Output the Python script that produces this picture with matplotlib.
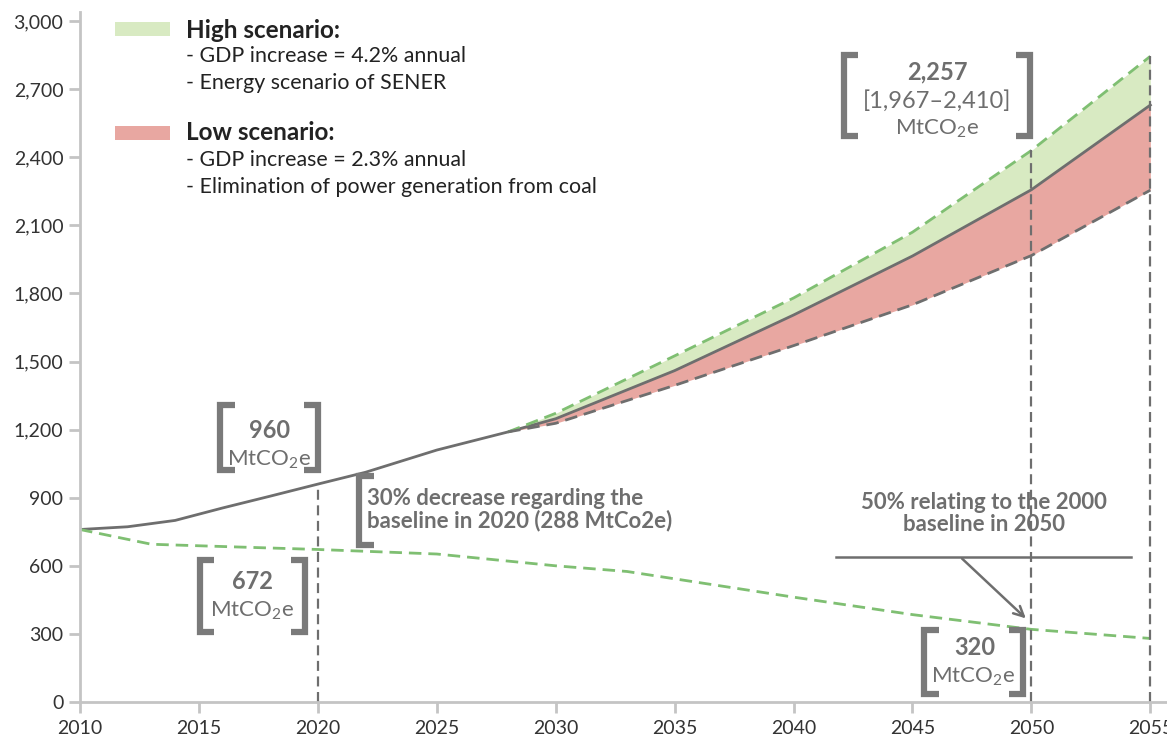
import numpy as np
import matplotlib
matplotlib.use('Agg')
import matplotlib.pyplot as plt

plt.rcParams['font.family'] = ['Lato', 'DejaVu Sans']
plt.rcParams['mathtext.fontset'] = 'custom'
plt.rcParams['mathtext.rm'] = 'Lato'
plt.rcParams['mathtext.it'] = 'Lato:italic'
plt.rcParams['mathtext.bf'] = 'Lato:bold'

# baseline emissions (MtCO2e)
base_years = [2010, 2012, 2014, 2016, 2018, 2020, 2022, 2025, 2028, 2030, 2035, 2040, 2045, 2050, 2055]
base_vals = [760, 772, 800, 855, 907, 960, 1012, 1110, 1190, 1248, 1460, 1705, 1965, 2257, 2630]

# scenarios from 2028 on
scen_years = [2028, 2030, 2035, 2040, 2045, 2050, 2055]
high_vals = [1190, 1272, 1525, 1780, 2070, 2430, 2845]
low_vals = [1190, 1228, 1395, 1570, 1750, 1967, 2255]

# reduction target path
target_years = [2010, 2013, 2016, 2020, 2025, 2030, 2033, 2040, 2045, 2050, 2055]
target_vals = [760, 695, 685, 672, 652, 600, 575, 462, 385, 320, 280]

xticks = [2010, 2015, 2020, 2025, 2030, 2035, 2040, 2045, 2050, 2055]
yticks = [0, 300, 600, 900, 1200, 1500, 1800, 2100, 2400, 2700, 3000]

GRAY = '#6e6e6e'
GREEN = '#7fbf72'
GFILL = '#d8eac2'
RFILL = '#e8a7a1'
AXC = '#c4c4c4'
DASH = (0, (4.5, 2.5))

fig = plt.figure(figsize=(11.67, 7.38), dpi=100)
ax = fig.add_axes([80 / 1167, 1 - 702 / 738, 1087 / 1167, (702 - 12) / 738])

base_scen = base_vals[base_years.index(scen_years[0]):]
ax.fill_between(scen_years, base_scen, high_vals, color=GFILL, lw=0)
ax.fill_between(scen_years, low_vals, base_scen, color=RFILL, lw=0)

ax.plot(base_years, base_vals, color=GRAY, lw=2)
ax.plot(scen_years, high_vals, color=GREEN, lw=2, ls=DASH)
ax.plot(scen_years, low_vals, color=GRAY, lw=2, ls=DASH)
ax.plot(target_years, target_vals, color=GREEN, lw=2, ls=DASH)

# vertical reference lines
ax.plot([2020, 2020], [0, base_vals[base_years.index(2020)]], color=GRAY, lw=1.6, ls=DASH)
ax.plot([2050, 2050], [0, high_vals[scen_years.index(2050)]], color=GRAY, lw=1.6, ls=DASH)
ax.plot([2055, 2055], [0, high_vals[scen_years.index(2055)]], color=GRAY, lw=1.6, ls=DASH)

ax.set_xlim(2010, 2055.7)
ax.set_ylim(0, 3040)
ax.set_xticks(xticks)
ax.set_yticks(yticks)
ax.set_yticklabels([f'{v:,}' for v in yticks])
for s in ['top', 'right']:
    ax.spines[s].set_visible(False)
for s in ['left', 'bottom']:
    ax.spines[s].set_color(AXC)
    ax.spines[s].set_linewidth(2)
ax.tick_params(colors=AXC, width=2, length=8, labelcolor='#333333', labelsize=14)
ax.tick_params(axis='x', pad=5)
ax.tick_params(axis='y', pad=4)


def bracket(x0, x1, y0, y1, w=0.6, left=True, right=True):
    kw = dict(color='#7a7a7a', lw=4.5, solid_capstyle='butt', solid_joinstyle='miter', clip_on=False)
    if left:
        ax.plot([x0 + w, x0, x0, x0 + w], [y1, y1, y0, y0], **kw)
    if right:
        ax.plot([x1 - w, x1, x1, x1 - w], [y1, y1, y0, y0], **kw)


tc = GRAY
fs = 17
fu = 16
# 960 box
bracket(2015.9, 2020.0, 1020, 1310)
ax.text(2017.95, 1198, '960', ha='center', va='center', fontsize=fs, fontweight='bold', color=tc)
ax.text(2017.95, 1065, 'MtCO$_2$e', ha='center', va='center', fontsize=fu, color=tc)

# 672 box
bracket(2015.05, 2019.45, 310, 625)
ax.text(2017.25, 530, '672', ha='center', va='center', fontsize=fs, fontweight='bold', color=tc)
ax.text(2017.25, 400, 'MtCO$_2$e', ha='center', va='center', fontsize=fu, color=tc)

# 30% note
bracket(2021.75, 2030, 690, 995, right=False)
ax.text(2022.05, 848, '30% decrease regarding the\nbaseline in 2020 (288 MtCo2e)', ha='left', va='center',
        fontsize=16, fontweight='bold', color=tc, linespacing=1.0)

# 2050 box
bracket(2042.1, 2049.95, 2495, 2850)
ax.text(2046.05, 2775, '2,257', ha='center', va='center', fontsize=fs, fontweight='bold', color=tc)
ax.text(2046.05, 2650, '[1,967–2,410]', ha='center', va='center', fontsize=fs, color=tc)
ax.text(2046.05, 2525, 'MtCO$_2$e', ha='center', va='center', fontsize=fu, color=tc)

# 320 box
bracket(2045.5, 2049.65, 35, 318)
ax.text(2047.6, 240, '320', ha='center', va='center', fontsize=fs, fontweight='bold', color=tc)
ax.text(2047.55, 112, 'MtCO$_2$e', ha='center', va='center', fontsize=fu, color=tc)

# 50% note with arrow
ax.text(2048.0, 830, '50% relating to the 2000\nbaseline in 2050', ha='center', va='center',
        fontsize=16, fontweight='bold', color=tc, linespacing=1.05)
ax.plot([2041.8, 2054.2], [640, 640], color=GRAY, lw=1.8)
ax.annotate('', xy=(2049.85, 360), xytext=(2047.0, 640),
            arrowprops=dict(arrowstyle='->', color=GRAY, lw=1.8, mutation_scale=18))

# legend
fig.patches.append(plt.Rectangle((115 / 1167, 1 - 36 / 738), 55 / 1167, 14 / 738,
                                 transform=fig.transFigure, color=GFILL, lw=0))
fig.patches.append(plt.Rectangle((115 / 1167, 1 - 140 / 738), 55 / 1167, 14 / 738,
                                 transform=fig.transFigure, color=RFILL, lw=0))
lx = 186 / 1167
lc = '#222222'
fig.text(lx, 1 - 30 / 738, 'High scenario:', fontsize=17.5, fontweight='bold', color=lc, va='center')
fig.text(lx, 1 - 56 / 738, '- GDP increase = 4.2% annual', fontsize=15.4, color=lc, va='center')
fig.text(lx, 1 - 83 / 738, '- Energy scenario of SENER', fontsize=15.4, color=lc, va='center')
fig.text(lx, 1 - 133 / 738, 'Low scenario:', fontsize=17.5, fontweight='bold', color=lc, va='center')
fig.text(lx, 1 - 160 / 738, '- GDP increase = 2.3% annual', fontsize=15.4, color=lc, va='center')
fig.text(lx, 1 - 187 / 738, '- Elimination of power generation from coal', fontsize=15.4, color=lc, va='center')

fig.savefig('out.png', dpi=100)
